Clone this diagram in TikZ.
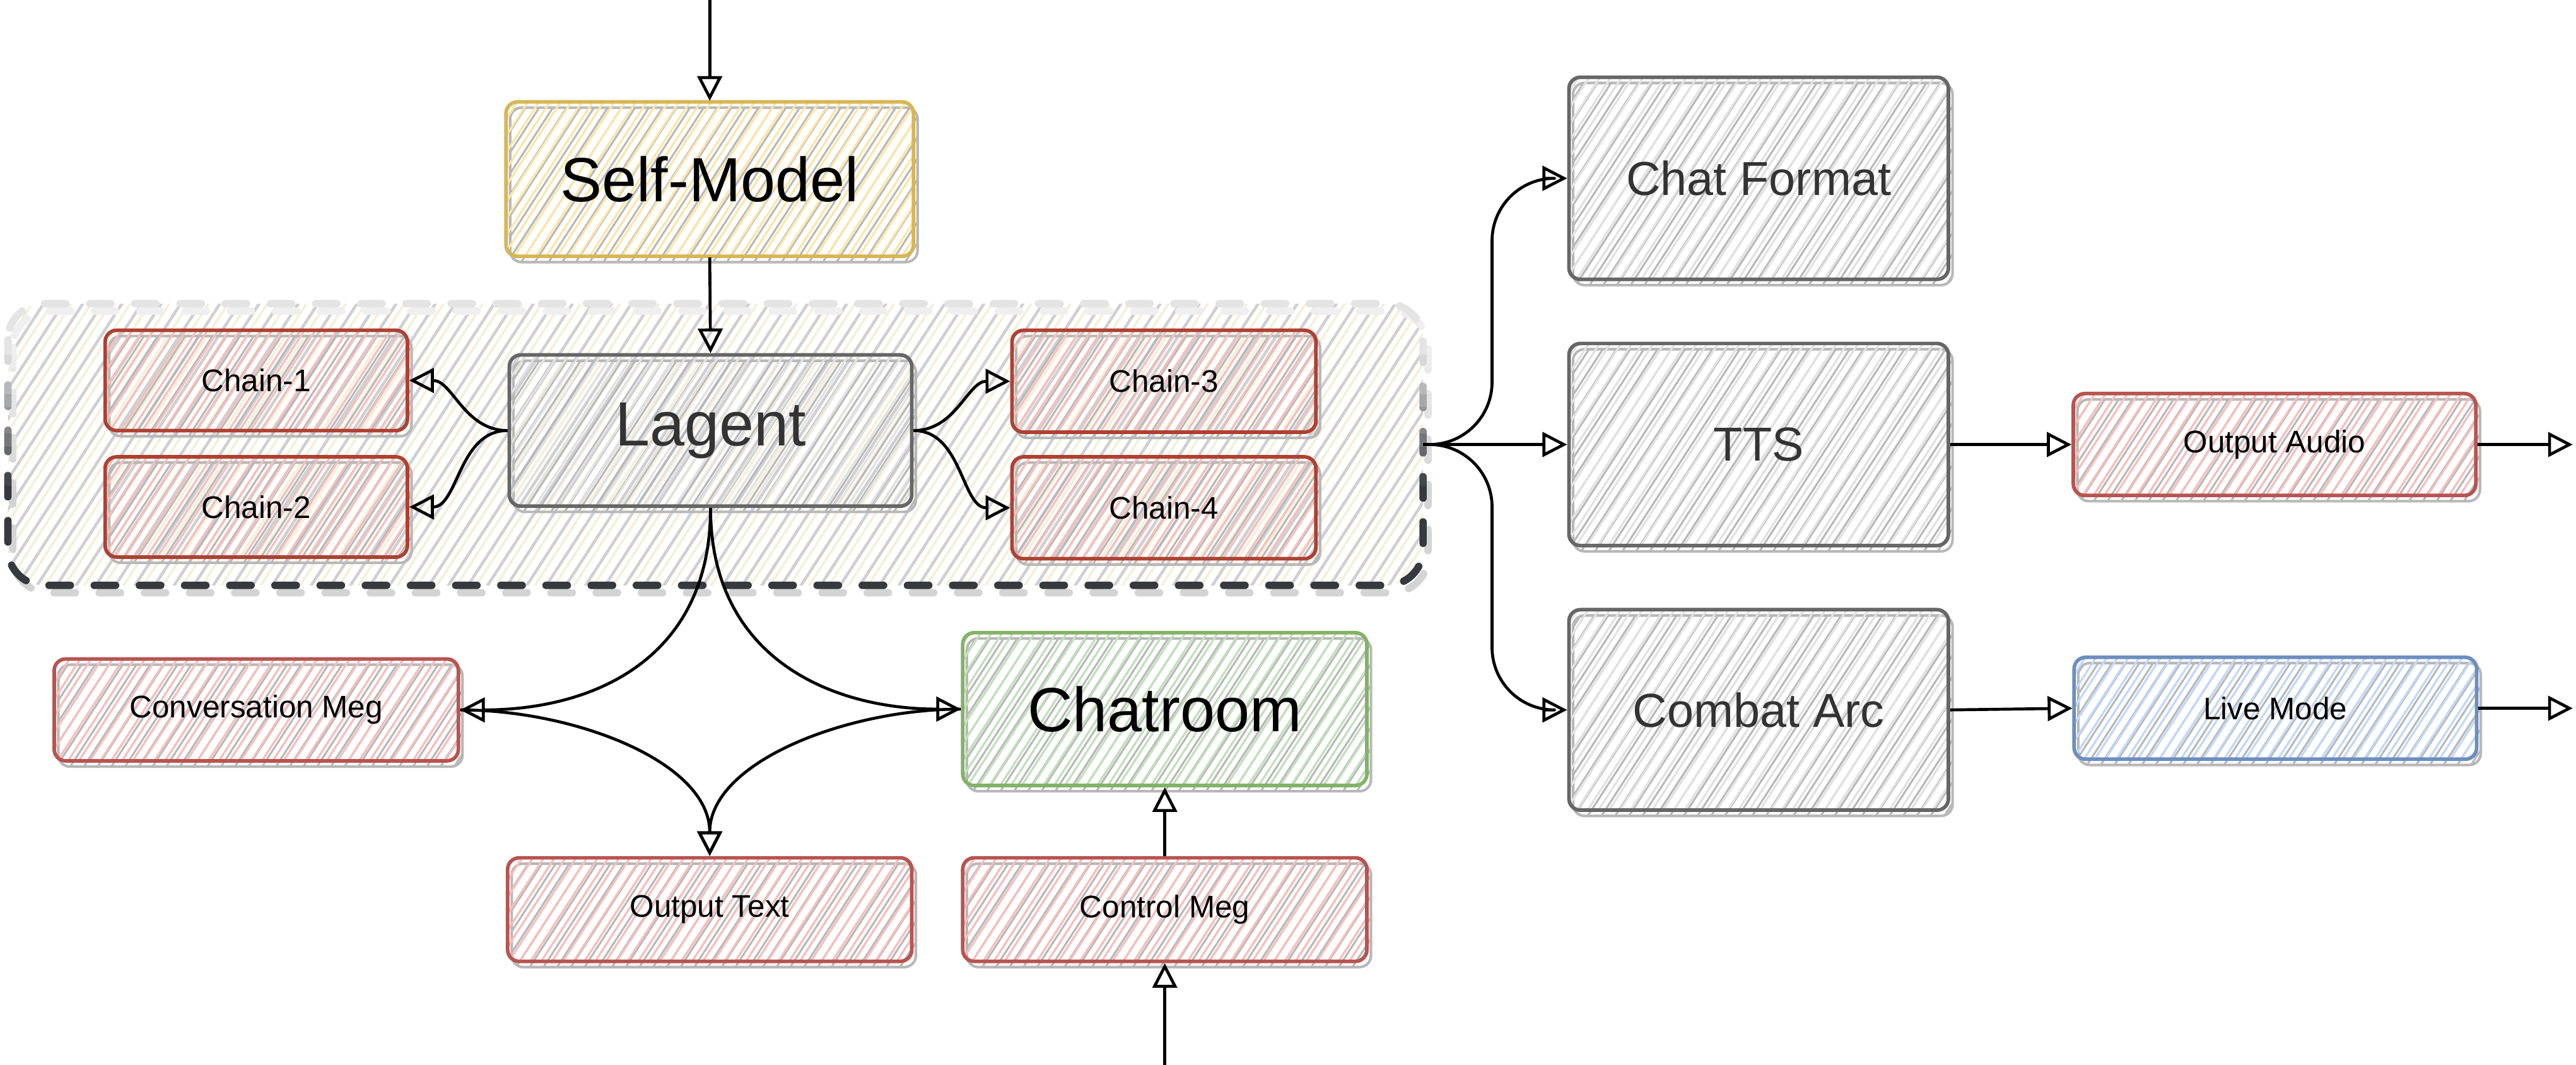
\documentclass[tikz,border=0pt]{standalone}
\usepackage{fontspec}
\setmainfont{Liberation Sans}
\usetikzlibrary{arrows.meta,patterns.meta,calc}

\definecolor{redS}{HTML}{B85450}
\definecolor{redD}{HTML}{AE4132}
\definecolor{redH}{HTML}{F5BFBC}
\definecolor{yelS}{HTML}{D6B656}
\definecolor{yelH}{HTML}{FCE6A8}
\definecolor{grnS}{HTML}{82B366}
\definecolor{grnH}{HTML}{C3E0BC}
\definecolor{bluS}{HTML}{6C8EBF}
\definecolor{bluH}{HTML}{C2D9F7}
\definecolor{gryS}{HTML}{666666}
\definecolor{gryH}{HTML}{E2E2E2}
\definecolor{shd}{HTML}{B8B8B8}
\definecolor{txtG}{HTML}{333333}
\definecolor{cdark}{HTML}{36393D}
\definecolor{clight}{HTML}{E4E4E4}
\definecolor{contH}{HTML}{D0D0D0}
\definecolor{contY}{HTML}{F4F0DC}

\tikzset{
  sbox/.style n args={4}{
    rounded corners=7pt, draw=#1, line width=2.2pt,
    minimum width=#3, minimum height=#4, inner sep=0pt, align=center,
    pattern={Lines[angle=57,distance=5.5pt,line width=1.3pt]}, pattern color=#2,
    preaction={draw=shd, line width=1.6pt,
      pattern={Lines[angle=57,distance=7pt,line width=1.2pt]}, pattern color=shd,
      transform canvas={shift={(2.5pt,-3.5pt)}}}},
  smallf/.style={font=\fontsize{19}{22}\selectfont},
  medf/.style={font=\fontsize{29}{33}\selectfont, text=txtG},
  bigf/.style={font=\fontsize{38}{42}\selectfont},
  arr/.style={line width=1.8pt, draw=black, line join=round,
    -{Triangle[open, length=15pt, width=15pt]}},
  contdash/.style={line width=4.5pt, line cap=round, rounded corners=22pt,
    dash pattern=on 13pt off 14.5pt},
}

\begin{document}
\begin{tikzpicture}[x=1pt,y=-1pt]
\useasboundingbox (0,0) rectangle (1568,648);

% container
\node[minimum width=861pt, minimum height=171pt, inner sep=0pt] (cont) at (435.5,270.5) {};
\fill[rounded corners=22pt, pattern={Lines[angle=57,distance=10pt,line width=1.8pt]}, pattern color=contH]
  (cont.north west) rectangle (cont.south east);
\fill[rounded corners=22pt, pattern={Lines[angle=57,distance=10pt,line width=1.5pt,xshift=5pt]}, pattern color=contY]
  (cont.north west) rectangle (cont.south east);
\foreach \yy in {176,184,...,368} {
  \pgfmathsetmacro\ff{max(0,min(100,(\yy-210)*100/85))}
  \begin{scope}
    \clip (-5,\yy) rectangle (890,\yy+8);
    \draw[contdash, draw=shd!\ff!clight!60!white]
      ([shift={(3pt,-4.5pt)}]cont.north west) rectangle ([shift={(3pt,-4.5pt)}]cont.south east);
    \draw[contdash, draw=cdark!\ff!clight]
      (cont.north west) rectangle (cont.south east);
  \end{scope}
}

% nodes
\node[sbox={yelS}{yelH}{248pt}{94pt}, bigf] (sm) at (432,109) {Self-Model};
\node[sbox={gryS}{gryH}{245pt}{92pt}, bigf, text=txtG] (lag) at (432.5,262) {Lagent};
\node[sbox={redD}{redH}{184pt}{61pt}, smallf] (c1) at (156,231.5) {Chain-1};
\node[sbox={redD}{redH}{184pt}{61pt}, smallf] (c2) at (156,308.5) {Chain-2};
\node[sbox={redD}{redH}{185pt}{62pt}, smallf] (c3) at (708.5,232) {Chain-3};
\node[sbox={redD}{redH}{185pt}{62pt}, smallf] (c4) at (708.5,309) {Chain-4};
\node[sbox={redS}{redH}{246pt}{62pt}, smallf] (conv) at (156,432) {Conversation Meg};
\node[sbox={grnS}{grnH}{246pt}{93pt}, bigf] (chat) at (709,431.5) {Chatroom};
\node[sbox={redS}{redH}{246pt}{63pt}, smallf] (out) at (432,553.5) {Output Text};
\node[sbox={redS}{redH}{246pt}{63pt}, smallf] (ctrl) at (709,553.5) {Control Meg};
\node[sbox={gryS}{gryH}{231pt}{123pt}, medf] (cf) at (1070.5,108.5) {Chat Format};
\node[sbox={gryS}{gryH}{231pt}{123pt}, medf] (tts) at (1070.5,270.5) {TTS};
\node[sbox={gryS}{gryH}{231pt}{122pt}, medf] (ca) at (1070.5,432) {Combat Arc};
\node[sbox={redS}{redH}{245pt}{62pt}, smallf] (oa) at (1384.5,270.5) {Output Audio};
\node[sbox={bluS}{bluH}{245pt}{62pt}, smallf] (lm) at (1385,431) {Live Mode};

% free ends
\coordinate (topin) at (432,0);
\coordinate (botin) at (709,648);
\coordinate (oaend) at (1566,270.5);
\coordinate (lmend) at (1566,431);
\coordinate (bx) at ([xshift=42pt]cont.east);

% connectors
\draw[arr] (topin) -- (sm.north);
\draw[arr] (sm.south) -- (lag.north);
\draw[arr] (lag.west) to[out=180,in=0] (c1.east);
\draw[arr] (lag.west) to[out=180,in=0] (c2.east);
\draw[arr] (lag.east) to[out=0,in=180] (c3.west);
\draw[arr] (lag.east) to[out=0,in=180] (c4.west);
\draw[arr] (lag.south) .. controls ($(lag.south)+(0,92)$) and ($(conv.east)+(81,0)$) .. (conv.east);
\draw[arr] (lag.south) .. controls ($(lag.south)+(0,92)$) and ($(chat.west)+(-78,0)$) .. (chat.west);
\draw[arr] (conv.east) .. controls ($(conv.east)+(70,0)$) and ($(out.north)+(0,-57)$) .. (out.north);
\draw[arr] (chat.west) .. controls ($(chat.west)+(-70,0)$) and ($(out.north)+(0,-57)$) .. (out.north);
\draw[arr] (ctrl.north) -- (chat.south);
\draw[arr] (botin) -- (ctrl.south);
\draw[arr, rounded corners=38pt] (cont.east) -| (bx |- cf.west) -- (cf.west);
\draw[arr] (cont.east) -- (tts.west);
\draw[arr, rounded corners=38pt] (cont.east) -| (bx |- ca.west) -- (ca.west);
\draw[arr] (tts.east) -- (oa.west);
\draw[arr] (ca.east) -- (lm.west);
\draw[arr] (oa.east) -- (oaend);
\draw[arr] (lm.east) -- (lmend);
\end{tikzpicture}
\end{document}
